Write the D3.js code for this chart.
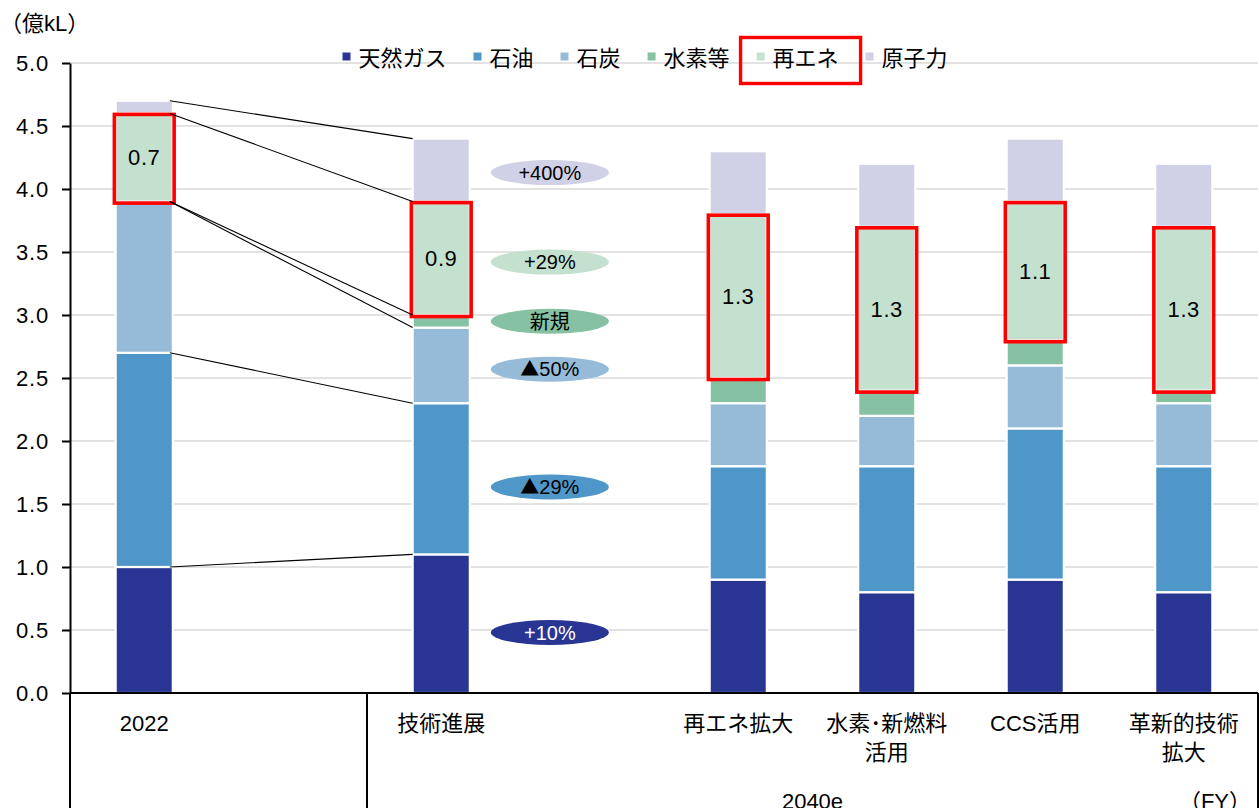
<!DOCTYPE html>
<html lang="ja">
<head>
<meta charset="utf-8">
<script src="https://cdn.jsdelivr.net/npm/d3@7"></script>
<style>
  html, body { margin: 0; padding: 0; background: #fff; }
  svg { display: block; }
  text { font-family: "Liberation Sans", Arial, "Noto Sans CJK JP", sans-serif; fill: #000; }
  .cjk { font-family: "Noto Sans CJK JP", sans-serif; }
</style>
</head>
<body>
<svg id="chart" width="1259" height="808"></svg>
<script>
// ---- data (億kL) ----
const series = ["天然ガス", "石油", "石炭", "水素等", "再エネ", "原子力"];
const seriesColors = ["#283593", "#4F96C9", "#95BBD9", "#86C1A3", "#C4E0CE", "#D0D0E6"];

const categories = ["2022", "技術進展", "再エネ拡大", "水素・新燃料活用", "CCS活用", "革新的技術拡大"];
const categoryLines = [["2022"], ["技術進展"], ["再エネ拡大"], ["水素･新燃料", "活用"], ["CCS活用"], ["革新的技術", "拡大"]];
const periodLabels = ["", "2040e", "2040e", "2040e", "2040e", "2040e"];

const gas        = [1.0, 1.1, 0.9, 0.8, 0.9, 0.8];
const oil        = [1.7, 1.2, 0.9, 1.0, 1.2, 1.0];
const coal       = [1.2, 0.6, 0.5, 0.4, 0.5, 0.5];
const hydrogen   = [0.0, 0.1, 0.2, 0.2, 0.2, 0.1];
const renewables = [0.7, 0.9, 1.3, 1.3, 1.1, 1.3];
const nuclear    = [0.1, 0.5, 0.5, 0.5, 0.5, 0.5];

const yTicks = [0, 0.5, 1, 1.5, 2, 2.5, 3, 3.5, 4, 4.5, 5];

// change 2022 -> 技術進展, per series, and the level (axis units) each badge sits at
const changeLabels = ["+10%", "▲29%", "▲50%", "新規", "+29%", "+400%"];
const badgeLevels  = [0.48, 1.635, 2.57, 2.95, 3.42, 4.13];

const yUnit = "（億kL）";
const fyLabel = "（FY）";
const highlighted = "再エネ";

(function draw() {
  const svg = d3.select("#chart");
  const H = 808;
  const plotLeft = 70, plotRight = 1258, plotTop = 63, plotBottom = 693;

  const values = [gas, oil, coal, hydrogen, renewables, nuclear];
  const rows = categories.map((c, i) => {
    const r = { category: c };
    series.forEach((s, k) => { r[s] = values[k][i]; });
    return r;
  });
  const stacked = d3.stack().keys(series)(rows);

  // spacer slots after the first two bars
  const slots = [];
  categories.forEach((c, i) => { slots.push(c); if (i < 2) slots.push("__gap" + i); });

  const x = d3.scaleBand().domain(slots).range([plotLeft, plotRight]).paddingInner(0.615).paddingOuter(0.3075);
  const y = d3.scaleLinear().domain([0, 5]).range([plotBottom, plotTop]);
  const color = d3.scaleOrdinal().domain(series).range(seriesColors);
  const bw = x.bandwidth();
  const step = x.step();

  // gridlines
  svg.append("g").selectAll("line").data(yTicks.filter(d => d > 0)).join("line")
    .attr("x1", plotLeft).attr("x2", plotRight)
    .attr("y1", d => y(d)).attr("y2", d => y(d))
    .attr("stroke", "#D9D9D9").attr("stroke-width", 1.6);

  // stacked bars
  const layers = svg.append("g").selectAll("g").data(stacked).join("g")
    .attr("fill", d => color(d.key));
  layers.selectAll("rect").data(d => d.filter(p => p[1] - p[0] > 1e-9)).join("rect")
    .attr("x", d => x(d.data.category))
    .attr("width", bw)
    .attr("y", d => y(d[1]))
    .attr("height", d => y(d[0]) - y(d[1]))
    .attr("stroke", "#fff").attr("stroke-width", 2.2);

  // value labels on the highlighted series
  const hl = stacked.find(s => s.key === highlighted);
  svg.append("g").selectAll("text").data(hl).join("text")
    .attr("x", d => x(d.data.category) + bw / 2)
    .attr("y", d => y((d[0] + d[1]) / 2))
    .attr("dy", "0.36em")
    .attr("text-anchor", "middle")
    .attr("font-size", 22)
    .attr("letter-spacing", 0.6)
    .text(d => d3.format(".1f")(d[1] - d[0]));

  // red frames round the highlighted series
  svg.append("g").selectAll("rect").data(hl).join("rect")
    .attr("x", d => x(d.data.category) - 1.3)
    .attr("width", bw + 2.6)
    .attr("y", d => y(d[1]) + 1)
    .attr("height", d => y(d[0]) - y(d[1]) + 0.5)
    .attr("fill", "none").attr("stroke", "#FF0000").attr("stroke-width", 3.6);

  // connector lines 2022 -> 技術進展 at each series top
  const c0 = categories[0], c1 = categories[1];
  svg.append("g").selectAll("line").data(stacked).join("line")
    .attr("x1", x(c0) + bw - 3)
    .attr("y1", s => y(s[0][1]))
    .attr("x2", x(c1))
    .attr("y2", s => y(s[1][1]))
    .attr("stroke", "#000").attr("stroke-width", 1.1);

  // change badges
  const badgeX = x(c1) + bw + 80;
  const badges = svg.append("g").selectAll("g").data(series).join("g")
    .attr("transform", (s, i) => `translate(${badgeX},${y(badgeLevels[i])})`);
  badges.append("ellipse")
    .attr("rx", 59).attr("ry", 12.5)
    .attr("fill", s => color(s));
  const bt = badges.append("text")
    .attr("text-anchor", "middle")
    .attr("dy", "0.36em")
    .attr("font-size", 20)
    .style("fill", (s, i) => i === 0 ? "#fff" : "#000");
  bt.each(function (s, i) {
    const label = changeLabels[i];
    const t = d3.select(this);
    if (label.startsWith("▲")) {
      t.append("tspan").attr("class", "cjk").attr("font-size", 19).text("▲");
      t.append("tspan").text(label.slice(1));
    } else {
      t.text(label);
    }
  });

  // y axis
  const yAxis = svg.append("g")
    .attr("transform", `translate(${plotLeft},0)`)
    .call(d3.axisLeft(y).tickValues(yTicks).tickFormat(d3.format(".1f"))
      .tickSize(8).tickSizeOuter(0).tickPadding(13));
  yAxis.select(".domain").attr("stroke", "#000").attr("stroke-width", 2);
  yAxis.selectAll(".tick line").attr("stroke", "#000").attr("stroke-width", 2);
  yAxis.selectAll(".tick text")
    .attr("font-size", 22)
    .attr("letter-spacing", 0.8)
    .attr("font-family", "'Liberation Sans', Arial, sans-serif")
    .attr("fill", "#000");

  // category axis (two levels)
  svg.append("line")
    .attr("x1", plotLeft).attr("x2", plotRight).attr("y1", plotBottom).attr("y2", plotBottom)
    .attr("stroke", "#000").attr("stroke-width", 2);

  const catG = svg.append("g");
  categories.forEach((c, i) => {
    const cx = x(c) + bw / 2;
    const t = catG.append("text")
      .attr("text-anchor", "middle")
      .attr("font-size", 22)
      .attr("x", cx)
      .attr("y", 731);
    categoryLines[i].forEach((line, j) => {
      t.append("tspan").attr("x", cx).attr("dy", j === 0 ? 0 : 29).text(line);
    });
  });

  // period groups
  const groups = [];
  periodLabels.forEach((p, i) => {
    if (groups.length && groups[groups.length - 1].label === p) return;
    const start = i === 0 ? plotLeft : x(categories[i]) - step * x.paddingInner() / 2;
    groups.push({ label: p, start });
  });
  groups.forEach((g, i) => { g.end = i < groups.length - 1 ? groups[i + 1].start : plotRight; });

  const sepXs = groups.map(g => g.start).concat([plotRight]);
  svg.append("g").selectAll("line").data(sepXs).join("line")
    .attr("x1", d => d).attr("x2", d => d)
    .attr("y1", plotBottom).attr("y2", H)
    .attr("stroke", "#000").attr("stroke-width", 2);

  svg.append("g").selectAll("text").data(groups).join("text")
    .attr("x", g => (g.start + g.end) / 2)
    .attr("y", 809)
    .attr("text-anchor", "middle")
    .attr("font-size", 22)
    .text(g => g.label);

  svg.append("text")
    .attr("x", 1251).attr("y", 809)
    .attr("text-anchor", "end")
    .attr("font-size", 22)
    .text(fyLabel);

  // unit label
  svg.append("text")
    .attr("x", 0).attr("y", 31)
    .attr("font-size", 22)
    .text(yUnit);

  // legend
  const legend = svg.append("g").attr("transform", "translate(342.5,0)");
  let lx = 0;
  series.forEach(s => {
    const g = legend.append("g").attr("transform", `translate(${lx},0)`);
    g.append("rect").attr("x", 0).attr("y", 52.5).attr("width", 8).attr("height", 8).attr("fill", color(s));
    const t = g.append("text").attr("x", 16).attr("y", 65.5).attr("font-size", 22).text(s);
    const w = t.node().getComputedTextLength();
    if (s === highlighted) {
      g.append("rect")
        .attr("x", -16).attr("y", 37.5)
        .attr("width", w + 16 + 38).attr("height", 46)
        .attr("fill", "none").attr("stroke", "#FF0000").attr("stroke-width", 3.4);
    }
    lx += 16 + w + 27;
  });
})();
</script>
</body>
</html>
